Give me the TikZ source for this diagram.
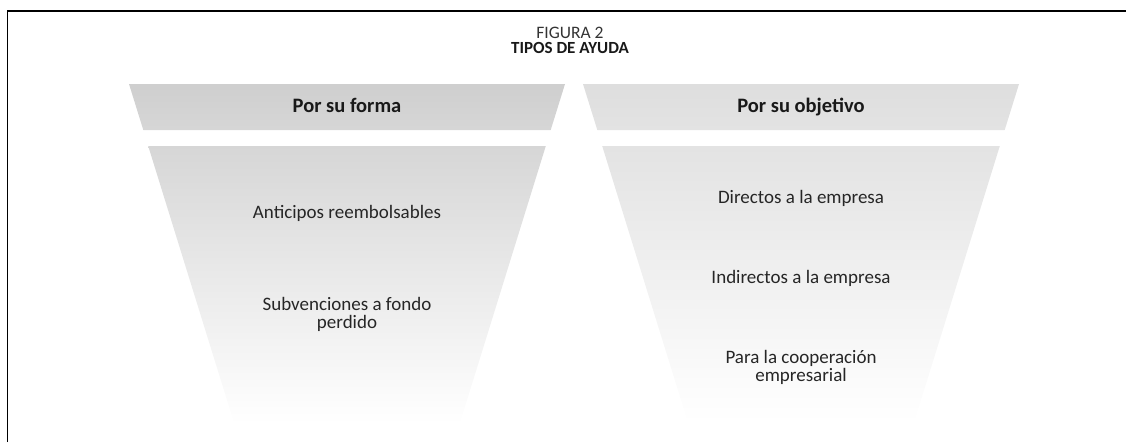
\documentclass[tikz,border=0pt]{standalone}
\usepackage{fontspec}
\setmainfont{Carlito}
\begin{document}
\begin{tikzpicture}[x=1pt,y=-1pt,
  frameline/.style={line width=1.3pt,black},
  headtxt/.style={font=\fontsize{20.5}{22}\selectfont\bfseries,text=black!90,anchor=base,inner sep=0pt},
  itemtxt/.style={font=\fontsize{19}{18}\selectfont,text=black!85,anchor=base,align=center,inner sep=0pt},
  titletxt/.style={text=black!90,anchor=base,inner sep=0pt}]
\useasboundingbox (0,0) rectangle (1126,442);
% frame (top and left)
\draw[frameline] (7.3,442) -- (7.3,11) -- (1126,11);
% titles
\node[titletxt,font=\fontsize{17.5}{18}\selectfont,text=black!80] (fig) at (570,38) {FIGURA 2};
\node[titletxt,font=\fontsize{17}{18}\selectfont\bfseries] (title) at (570,53.5) {TIPOS DE AYUDA};
% left funnel
\path[top color=black!19,bottom color=black!16] (129,84) -- (565,84) -- (550.7,130) -- (143.3,130) -- cycle;
\path[top color=black!16,bottom color=white] (148.2,146) -- (545.8,146) -- (459.6,424) -- (234.4,424) -- cycle;
% right funnel
\path[top color=black!13,bottom color=black!11] (583,84) -- (1019,84) -- (1004.7,130) -- (597.3,130) -- cycle;
\path[top color=black!11,bottom color=white] (602.2,146) -- (999.8,146) -- (914.2,422) -- (687.8,422) -- cycle;
% headers
\node[headtxt] (hforma) at (347,112) {Por su forma};
\node[headtxt] (hobj) at (801,112) {Por su objetivo};
% left items
\node[itemtxt] (ant) at (347,218) {Anticipos reembolsables};
\node[itemtxt] (sub) at (347,328) {Subvenciones a fondo\\perdido};
% right items
\node[itemtxt] (dir) at (801,203) {Directos a la empresa};
\node[itemtxt] (ind) at (801,283) {Indirectos a la empresa};
\node[itemtxt] (coop) at (801,381) {Para la cooperación\\empresarial};
\end{tikzpicture}
\end{document}
